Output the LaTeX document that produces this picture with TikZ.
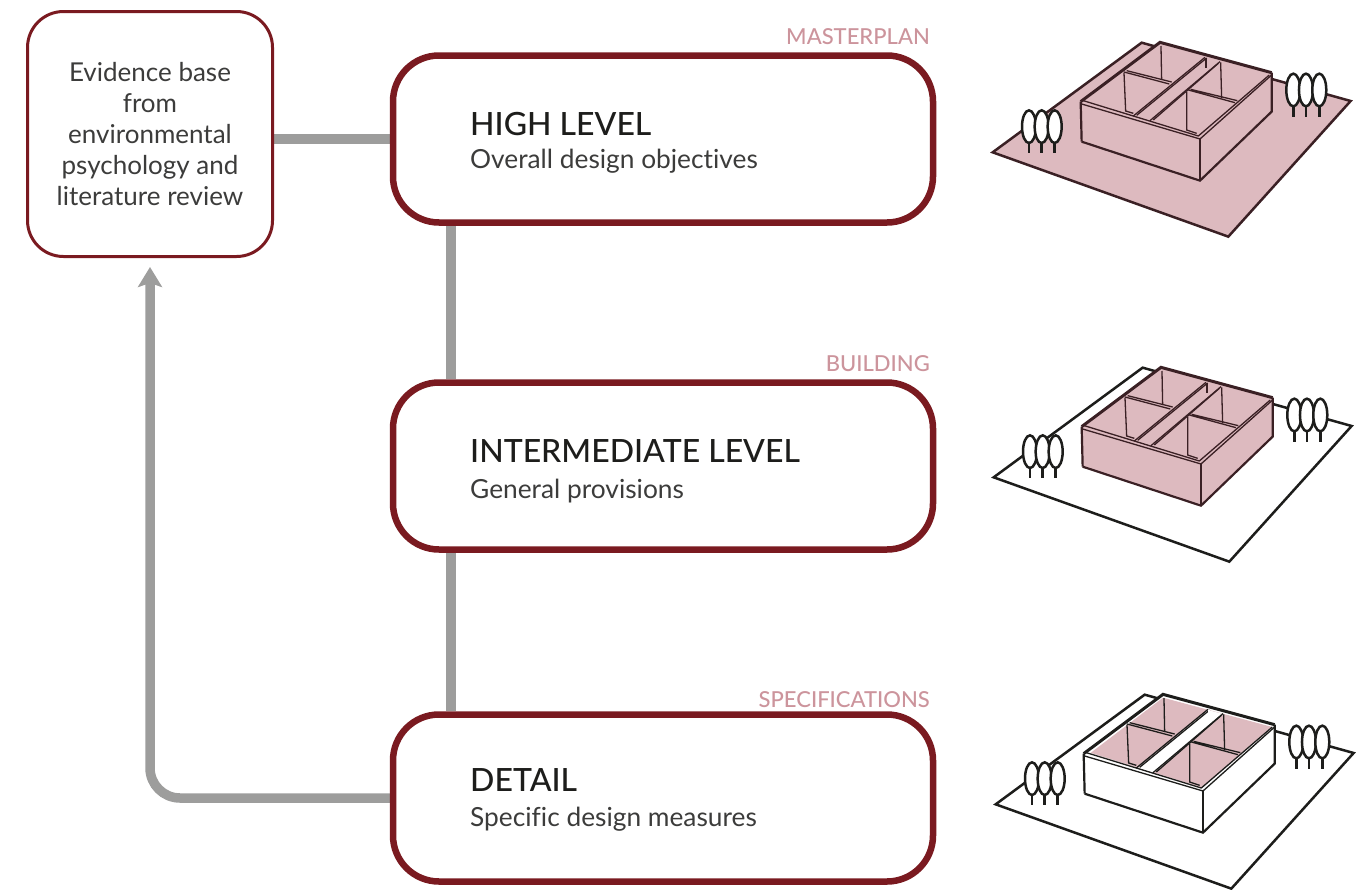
\documentclass[tikz,border=0pt]{standalone}
\usepackage{fontspec}
\setmainfont{Lato}[Ligatures=NoCommon,BoldFont={Lato Medium}]
\usetikzlibrary{arrows.meta,backgrounds}
\definecolor{wine}{HTML}{7A1A20}
\definecolor{pinkfill}{HTML}{DDBABF}
\definecolor{pinktext}{HTML}{CC949C}
\definecolor{conn}{HTML}{9D9D9C}
\definecolor{ink}{HTML}{1D1D1B}
\definecolor{subink}{HTML}{3C3C3B}
\definecolor{edgedark}{HTML}{3A2024}
\tikzset{
 mainbox/.style={draw=wine,line width=6.5pt,fill=white,rounded corners=46pt,minimum width=540pt,minimum height=167pt,inner sep=0pt},
 sidebox/.style={draw=wine,line width=3pt,fill=white,rounded corners=36pt,minimum width=245pt,minimum height=245pt,align=center,inner sep=0pt,text=subink,font=\fontsize{26}{31}\selectfont},
 headtext/.style={anchor=base west,inner sep=0pt,text=ink,font=\fontsize{32}{36}\selectfont\bfseries},
 subtext/.style={anchor=base west,inner sep=0pt,text=subink,font=\fontsize{26.3}{30}\selectfont},
 tagtext/.style={anchor=base east,inner sep=0pt,text=pinktext,font=\fontsize{22}{24}\selectfont\bfseries},
 connector/.style={draw=conn,line width=9.5pt},
 iconline/.style={line join=miter,line cap=butt},
 shortline/.style={},
}
% #1 x, #2 y, #3 ground fill, #4 ground stroke, #5 wall fill, #6 top fill, #7 rim fill, #8 corridor fill, #9 stroke
\newcommand{\buildingicon}[9]{%
\begin{scope}[shift={(#1,#2)},x=0.3333pt,y=-0.3333pt,iconline]
 \draw[draw=#4,fill=#3,line width=2.5pt] (485,38)--(1112,213)--(745,620)--(38,367)--cycle;
 \fill[#5] (302,215)--(540,37)--(875,128)--(875,245)--(660,452)--(305,335)--cycle;
 \fill[#6] (320,215)--(540,47)--(868,135)--(658,318)--cycle;
 \fill[#8] (465,258)--(675,84)--(720,96)--(512,272)--cycle;
 \fill[#7] (302,215)--(320,212)--(658,318)--(868,135)--(875,128)--(875,150)--(660,327)--(305,222)--cycle;
 \draw[draw=#9,line width=2.2pt] (305,335)--(660,452)--(875,245)--(875,128);
 \draw[draw=#9,line width=2.2pt] (302,215)--(305,335);
 \draw[draw=#9,line width=1.5pt] (660,327)--(660,452);
 \draw[draw=#9,line width=3pt] (302,215)--(540,37)--(875,128);
 \draw[draw=#9,line width=1.3pt] (305,222)--(660,327)--(875,135);
 \draw[draw=#9,line width=1.3pt] (310,212)--(655,318)--(868,135);
 \draw[draw=#9,line width=1.3pt] (460,258)--(675,82) (510,272)--(720,95);
 \draw[draw=#9,line width=1.3pt] (470,256)--(680,84) (520,270)--(715,100);
 \draw[draw=#9,line width=1.3pt] (432,126)--(568,162) (440,122)--(575,156);
 \draw[draw=#9,line width=1.3pt] (625,180)--(765,218) (632,178)--(772,212);
 \draw[draw=#9,line width=1.3pt] (432,128)--(437,243)--(460,250);
 \draw[draw=#9,line width=1.3pt] (543,48)--(545,150);
 \draw[draw=#9,line width=1.3pt] (620,185)--(620,300)--(650,310);
 \draw[draw=#9,line width=1.3pt] (722,97)--(725,205);
 \draw[draw=#9,line width=1.3pt,shortline] (678,85)--(678,115);
 \foreach \tx/\ty in {147/290,185/290,224/290,940/180,978/180,1018/180}{
  \draw[draw=ink,line width=2.6pt] (\tx,\ty+30)--(\tx,\ty+80);
  \draw[draw=ink,fill=white,line width=2.5pt] (\tx,\ty) ellipse [x radius=21,y radius=49];
 }
\end{scope}}
\begin{document}
\begin{tikzpicture}[x=1pt,y=-1pt]
\useasboundingbox (0,0) rectangle (1368,889);
\node[sidebox] (evid) at (150,134) {Evidence base\\from\\environmental\\psychology and\\literature review};
\node[mainbox] (high) at (663,139) {};
\node[mainbox] (mid) at (663,466) {};
\node[mainbox] (det) at (663,798) {};
\coordinate (vx) at (451,0);
\begin{scope}[on background layer]
 \draw[connector] (evid.east |- high.west) -- (high.west);
 \draw[connector] (high.south -| vx) -- (mid.north -| vx);
 \draw[connector] (mid.south -| vx) -- (det.north -| vx);
 \draw[connector,rounded corners=30pt,-{Stealth[length=20pt,width=24pt,inset=4pt]}] (det.west) -- (evid.center |- det.west) -- ([yshift=-9pt]evid.south);
\end{scope}
\node[headtext] (h1) at (470,135) {HIGH LEVEL};
\node[subtext] (s1) at (470,168) {Overall design objectives};
\node[headtext] (h2) at (470,462) {INTERMEDIATE LEVEL};
\node[subtext] (s2) at (470,498) {General provisions};
\node[headtext] (h3) at (470,791) {DETAIL};
\node[subtext] (s3) at (470,826) {Specific design measures};
\node[tagtext] (t1) at (930,44) {MASTERPLAN};
\node[tagtext] (t2) at (930,371) {BUILDING};
\node[tagtext] (t3) at (930,707) {SPECIFICATIONS};
\buildingicon{980}{30}{pinkfill}{edgedark}{pinkfill}{pinkfill}{pinkfill}{pinkfill}{edgedark}
\buildingicon{981}{355}{white}{ink}{pinkfill}{pinkfill}{pinkfill}{pinkfill}{edgedark}
\tikzset{shortline/.style={draw=white}}
\buildingicon{983}{682}{white}{ink}{white}{pinkfill}{white}{white}{ink}
\end{tikzpicture}
\end{document}
